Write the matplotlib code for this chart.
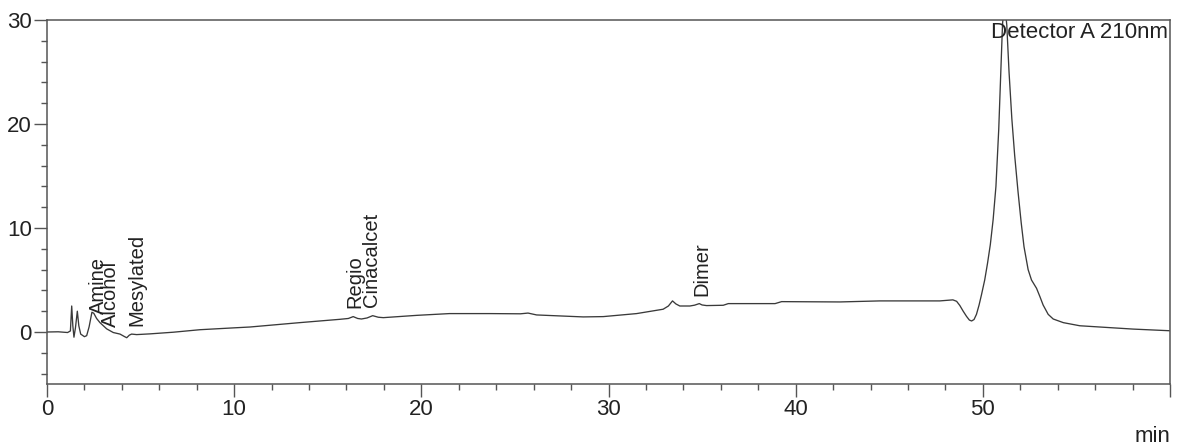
import matplotlib
matplotlib.use("Agg")
import matplotlib.pyplot as plt
from matplotlib.ticker import MultipleLocator

plt.rcParams['font.family'] = ['Liberation Sans', 'DejaVu Sans']

# Retention time (min) and detector signal
time_min = [0.0, 0.6, 1.1, 1.25, 1.32, 1.38, 1.44, 1.52, 1.62, 1.7, 1.8, 2.0, 2.12,
            2.25, 2.4, 2.5, 2.65, 2.83, 3.19, 3.54, 3.9, 4.15, 4.26, 4.4, 4.52, 4.79,
            5.5, 6.75, 8.17, 10.0, 10.84, 13.5, 15.65, 16.1, 16.36, 16.6, 16.8, 17.1,
            17.4, 17.7, 17.97, 19.75, 21.5, 23.66, 25.3, 25.7, 26.16, 28.65, 29.72,
            31.5, 32.92, 33.2, 33.42, 33.6, 33.81, 34.35, 34.6, 34.85, 35.0, 35.24,
            36.13, 36.4, 37.55, 38.9, 39.25, 42.36, 44.5, 47.7, 48.4, 48.6, 48.77,
            48.95, 49.13, 49.28, 49.4, 49.53, 49.66, 49.8, 49.93, 50.1, 50.25, 50.4,
            50.55, 50.7, 50.85, 50.95, 51.05, 51.15, 51.28, 51.4, 51.55, 51.7, 51.88,
            52.05, 52.2, 52.42, 52.6, 52.87, 53.05, 53.22, 53.49, 53.76, 54.3, 55.18,
            58.03, 60.0]
signal = [0.0, 0.02, -0.05, 0.1, 2.5, 0.6, -0.5, 0.4, 2.0, 0.6, -0.2, -0.45, -0.35,
          0.5, 1.9, 1.8, 1.3, 0.9, 0.3, -0.05, -0.2, -0.45, -0.55, -0.3, -0.2, -0.25,
          -0.18, -0.02, 0.22, 0.4, 0.48, 0.9, 1.22, 1.3, 1.48, 1.3, 1.25, 1.35,
          1.57, 1.42, 1.38, 1.6, 1.77, 1.77, 1.75, 1.82, 1.64, 1.45, 1.48,
          1.77, 2.19, 2.5, 2.99, 2.7, 2.5, 2.5, 2.58, 2.73, 2.6, 2.54,
          2.57, 2.73, 2.73, 2.73, 2.92, 2.89, 2.99, 2.99, 3.09, 2.95, 2.55,
          2.0, 1.5, 1.15, 1.06, 1.2, 1.7, 2.6, 3.6, 5.0, 6.6, 8.4,
          10.8, 14.0, 19.5, 24.5, 29.5, 32.0, 29.5, 25.0, 20.5, 17.0, 13.5,
          10.5, 8.2, 6.0, 5.0, 4.2, 3.4, 2.6, 1.7, 1.25, 0.9, 0.6,
          0.28, 0.12]

# Peak annotations: name, label x position (min), label bottom (signal units)
peak_names = ["Amine", "Alcohol", "Mesylated", "Regio", "Cinacalcet", "Dimer"]
peak_x = [2.73, 3.4, 4.8, 16.44, 17.33, 34.97]
peak_label_y = [1.74, 0.48, 0.58, 2.35, 2.4, 3.47]

x_major_ticks = [0, 10, 20, 30, 40, 50, 60]
x_tick_labels = ["0", "10", "20", "30", "40", "50", ""]
y_major_ticks = [0, 10, 20, 30]

fig = plt.figure(figsize=(11.79, 4.48), dpi=100)
ax = fig.add_axes([47/1179, 1 - 384/448, (1170 - 47)/1179, (384 - 20)/448])

ax.plot(time_min, signal, color='#3a3a3a', lw=0.95)

ax.set_xlim(0, 60)
ax.set_ylim(-5, 30)
ax.set_xticks(x_major_ticks)
ax.set_xticklabels(x_tick_labels)
ax.set_yticks(y_major_ticks)
ax.xaxis.set_minor_locator(MultipleLocator(2))
ax.yaxis.set_minor_locator(MultipleLocator(2))
ax.tick_params(which='major', length=9.5, width=1.0, color='#555555',
               labelsize=16, labelcolor='#222222', pad=1.5)
ax.tick_params(which='minor', length=4.5, width=1.0, color='#555555')
for s in ax.spines.values():
    s.set_color('#555555')
    s.set_linewidth(1.1)

for name, px, py in zip(peak_names, peak_x, peak_label_y):
    ax.text(px, py, name, rotation=90, ha='center', va='bottom',
            fontsize=14.5, color='#222222')

ax.text(0.998, 0.995, "Detector A 210nm", transform=ax.transAxes,
        ha='right', va='top', fontsize=16, color='#222222')
ax.text(1.0, -0.115, "min", transform=ax.transAxes, ha='right', va='top',
        fontsize=16, color='#222222')

fig.savefig("out.png", dpi=100)
